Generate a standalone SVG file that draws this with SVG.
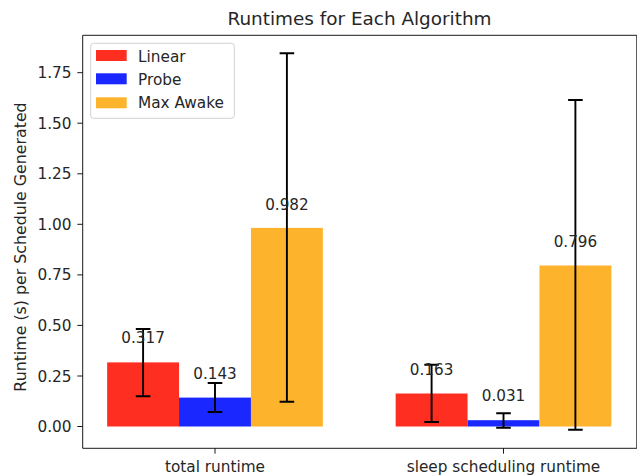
<svg xmlns="http://www.w3.org/2000/svg" width="637" height="475" viewBox="0 0 637 475">
  <style>
    text { font-family: "DejaVu Sans", "Liberation Sans", sans-serif; fill: #262626; }
    .title { font-size: 18.4px; text-anchor: middle; }
    .tick { font-size: 15.3px; }
    .ylabel { font-size: 15.8px; text-anchor: middle; }
    .ytl { text-anchor: end; }
    .xtl { text-anchor: middle; }
    .val { font-size: 15.2px; text-anchor: middle; }
    .leg { font-size: 15.3px; }
    .spine { stroke: #000; stroke-width: 0.9; fill: none; }
    .tk { stroke: #000; stroke-width: 0.9; }
    .err { stroke: #000; stroke-width: 1.9; fill: none; }
    .linear { fill: #FE2E20; }
    .probe { fill: #1A27FE; }
    .maxawake { fill: #FEB32C; }
  </style>

  <rect x="0" y="0" width="637" height="475" fill="#fff"/>

  <!-- title -->
  <text class="title" x="359.5" y="25">Runtimes for Each Algorithm</text>

  <!-- y axis label -->
  <text class="ylabel" x="0" y="0" transform="translate(25.5,247) rotate(-90)">Runtime (s) per Schedule Generated</text>

  <!-- bars: total runtime -->
  <g id="bars-total">
    <rect class="linear" x="107.15" y="362.4" width="71.9" height="64.1"/>
    <rect class="probe" x="179.05" y="397.6" width="71.9" height="28.9"/>
    <rect class="maxawake" x="250.95" y="227.9" width="71.9" height="198.6"/>
  </g>

  <!-- bars: sleep scheduling runtime -->
  <g id="bars-sleep">
    <rect class="linear" x="395.65" y="393.5" width="71.9" height="33"/>
    <rect class="probe" x="467.55" y="420.2" width="71.9" height="6.3"/>
    <rect class="maxawake" x="539.45" y="265.5" width="71.9" height="161"/>
  </g>

  <!-- error bars -->
  <g id="errorbars" class="err">
    <path d="M143.1 329V396.3M135.8 329H150.4M135.8 396.3H150.4"/>
    <path d="M215 383V412M207.7 383H222.3M207.7 412H222.3"/>
    <path d="M286.9 53.3V401.7M279.6 53.3H294.2M279.6 401.7H294.2"/>
    <path d="M431.6 364.7V422M424.3 364.7H438.9M424.3 422H438.9"/>
    <path d="M503.5 413.3V427.7M496.2 413.3H510.8M496.2 427.7H510.8"/>
    <path d="M575.4 100V429.7M568.1 100H582.7M568.1 429.7H582.7"/>
  </g>

  <!-- value labels -->
  <g id="values">
    <text class="val" x="143.1" y="343">0.317</text>
    <text class="val" x="215" y="378.5">0.143</text>
    <text class="val" x="286.9" y="210">0.982</text>
    <text class="val" x="431.6" y="375">0.163</text>
    <text class="val" x="503.5" y="400.5">0.031</text>
    <text class="val" x="575.4" y="246.7">0.796</text>
  </g>

  <!-- axes frame -->
  <g id="spines">
    <path class="spine" d="M82.7 35.3V448.3H636.8V35.3Z"/>
  </g>

  <!-- y ticks -->
  <g id="yticks">
    <path class="tk" d="M77.3 426.5H82.7M77.3 376H82.7M77.3 325.4H82.7M77.3 274.9H82.7M77.3 224.3H82.7M77.3 173.8H82.7M77.3 123.2H82.7M77.3 72.7H82.7"/>
    <text class="tick ytl" x="71.5" y="432">0.00</text>
    <text class="tick ytl" x="71.5" y="381.5">0.25</text>
    <text class="tick ytl" x="71.5" y="330.9">0.50</text>
    <text class="tick ytl" x="71.5" y="280.4">0.75</text>
    <text class="tick ytl" x="71.5" y="229.8">1.00</text>
    <text class="tick ytl" x="71.5" y="179.3">1.25</text>
    <text class="tick ytl" x="71.5" y="128.7">1.50</text>
    <text class="tick ytl" x="71.5" y="78.2">1.75</text>
  </g>

  <!-- x ticks -->
  <g id="xticks">
    <path class="tk" d="M215 448.3V453.7M503.5 448.3V453.7"/>
    <text class="tick xtl" x="215" y="472">total runtime</text>
    <text class="tick xtl" x="503.5" y="472">sleep scheduling runtime</text>
  </g>

  <!-- legend -->
  <g id="legend">
    <rect x="90.7" y="43.3" width="143.6" height="75" rx="3" fill="#fff" fill-opacity="0.8" stroke="#ccc" stroke-width="0.9"/>
    <rect class="linear" x="96" y="50" width="30.7" height="11"/>
    <rect class="probe" x="96" y="73.3" width="30.7" height="11"/>
    <rect class="maxawake" x="96" y="97.3" width="30.7" height="11"/>
    <text class="leg" x="138" y="61.7">Linear</text>
    <text class="leg" x="138" y="84.5">Probe</text>
    <text class="leg" x="138" y="108.3">Max Awake</text>
  </g>
</svg>
